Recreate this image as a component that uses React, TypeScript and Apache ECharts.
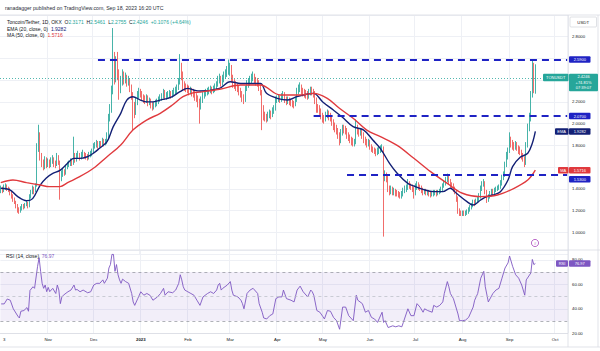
import React, { useEffect, useRef } from "react";
import * as echarts from "echarts";

// ---------------- data ----------------
const startDate = "2022-10-01";
const categoryDays = 374; // Oct 1 2022 .. Oct 9 2023 (right margin of the time scale)
const firstOpen = 1.38;

const closes = [
  1.40,1.38,1.41,1.42,1.40,1.39,1.36,1.33,1.30,1.28,
  1.24,1.20,1.19,1.22,1.24,1.23,1.25,1.27,1.24,1.33,
  1.37,1.40,1.38,1.43,1.78,1.90,1.70,1.64,1.60,1.66,
  1.62,1.65,1.62,1.66,1.67,1.63,1.62,1.70,1.65,1.50,
  1.54,1.56,1.55,1.60,1.62,1.63,1.65,1.64,1.70,1.67,
  1.70,1.72,1.69,1.71,1.73,1.71,1.70,1.69,1.71,1.72,
  1.74,1.79,1.80,1.82,1.80,1.82,1.81,1.84,1.82,1.83,
  1.88,2.05,2.12,2.30,2.62,2.42,2.58,2.45,2.32,2.38,
  2.45,2.40,2.42,2.38,2.40,2.33,2.27,2.15,2.10,2.20,
  2.26,2.30,2.28,2.25,2.23,2.22,2.24,2.20,2.21,2.18,
  2.16,2.17,2.19,2.20,2.22,2.24,2.25,2.29,2.25,2.26,
  2.27,2.28,2.26,2.28,2.30,2.31,2.33,2.38,2.52,2.45,
  2.36,2.34,2.33,2.32,2.30,2.31,2.29,2.28,2.25,2.24,
  2.20,2.16,2.22,2.26,2.28,2.29,2.30,2.31,2.32,2.31,
  2.32,2.34,2.36,2.40,2.42,2.38,2.41,2.44,2.46,2.48,
  2.50,2.52,2.42,2.38,2.36,2.34,2.33,2.30,2.28,2.24,
  2.22,2.32,2.36,2.38,2.40,2.42,2.44,2.41,2.39,2.38,
  2.34,2.30,2.14,2.08,2.06,2.05,2.08,2.10,2.08,2.12,
  2.14,2.22,2.23,2.24,2.23,2.25,2.27,2.23,2.21,2.22,
  2.21,2.20,2.19,2.18,2.22,2.30,2.32,2.34,2.31,2.29,
  2.28,2.27,2.26,2.29,2.31,2.30,2.28,2.22,2.15,2.14,
  2.12,2.08,2.05,2.04,2.08,2.10,2.07,2.06,2.02,1.98,
  1.96,1.94,1.90,1.84,1.92,1.96,1.95,1.94,1.90,1.88,
  1.86,1.84,1.82,1.83,1.97,1.94,1.92,1.93,1.90,1.86,
  1.84,1.82,1.83,1.79,1.77,1.76,1.75,1.73,1.75,1.76,
  1.77,1.78,1.52,1.53,1.50,1.41,1.38,1.40,1.37,1.38,
  1.37,1.36,1.35,1.34,1.35,1.38,1.40,1.41,1.46,1.43,
  1.42,1.40,1.36,1.42,1.44,1.42,1.41,1.39,1.37,1.38,
  1.37,1.37,1.36,1.35,1.35,1.37,1.37,1.36,1.37,1.38,
  1.39,1.43,1.45,1.48,1.51,1.47,1.44,1.43,1.40,1.38,
  1.32,1.20,1.18,1.17,1.18,1.17,1.18,1.19,1.21,1.23,
  1.25,1.28,1.27,1.29,1.30,1.33,1.40,1.44,1.46,1.38,
  1.30,1.33,1.36,1.38,1.37,1.39,1.40,1.41,1.42,1.45,
  1.50,1.53,1.62,1.70,1.75,1.86,1.82,1.80,1.78,1.80,
  1.78,1.76,1.74,1.70,1.68,1.64,1.80,1.96,2.04,2.26,
  2.50,2.3171,2.4246,
];

const highs = [
  1.43,1.42,1.44,1.45,1.44,1.42,1.41,1.38,1.35,1.32,
  1.29,1.26,1.23,1.24,1.26,1.26,1.27,1.29,1.28,1.35,
  1.39,1.43,1.42,1.45,1.82,1.99,1.92,1.73,1.67,1.70,
  1.69,1.68,1.67,1.69,1.71,1.69,1.66,1.73,1.71,1.66,
  1.57,1.59,1.58,1.62,1.65,1.66,1.68,1.67,1.88,1.73,
  1.73,1.75,1.73,1.74,1.76,1.74,1.73,1.72,1.74,1.75,
  1.77,1.82,1.83,1.85,1.84,1.84,1.84,1.87,1.86,1.86,
  1.92,2.09,2.18,2.35,2.88,2.66,2.62,2.66,2.50,2.44,
  2.50,2.48,2.47,2.45,2.44,2.42,2.36,2.29,2.20,2.24,
  2.30,2.33,2.32,2.30,2.27,2.26,2.27,2.26,2.24,2.23,
  2.20,2.20,2.22,2.23,2.25,2.27,2.28,2.32,2.31,2.29,
  2.30,2.31,2.30,2.31,2.33,2.34,2.36,2.42,2.64,2.56,
  2.48,2.39,2.37,2.36,2.35,2.34,2.33,2.32,2.30,2.28,
  2.26,2.23,2.25,2.29,2.31,2.32,2.33,2.34,2.35,2.34,
  2.35,2.37,2.39,2.44,2.46,2.44,2.45,2.48,2.50,2.53,
  2.59,2.56,2.54,2.45,2.41,2.39,2.37,2.35,2.33,2.30,
  2.27,2.35,2.40,2.42,2.44,2.46,2.48,2.46,2.43,2.42,
  2.40,2.36,2.31,2.17,2.11,2.09,2.11,2.13,2.12,2.15,
  2.17,2.25,2.26,2.27,2.26,2.28,2.30,2.29,2.25,2.25,
  2.24,2.23,2.22,2.21,2.25,2.33,2.36,2.38,2.36,2.33,
  2.32,2.31,2.30,2.32,2.34,2.34,2.32,2.30,2.24,2.18,
  2.17,2.14,2.10,2.08,2.11,2.13,2.12,2.10,2.08,2.04,
  2.01,1.99,1.96,1.92,1.95,1.99,1.99,1.98,1.96,1.92,
  1.90,1.88,1.87,1.86,2.04,1.99,1.96,1.96,1.95,1.92,
  1.88,1.86,1.86,1.85,1.81,1.79,1.78,1.77,1.78,1.79,
  1.80,1.81,1.79,1.57,1.55,1.52,1.43,1.43,1.42,1.41,
  1.40,1.39,1.38,1.37,1.38,1.41,1.43,1.44,1.49,1.47,
  1.45,1.44,1.42,1.45,1.47,1.46,1.44,1.43,1.41,1.40,
  1.40,1.39,1.39,1.38,1.37,1.39,1.39,1.39,1.39,1.40,
  1.42,1.45,1.48,1.51,1.54,1.52,1.49,1.46,1.45,1.42,
  1.39,1.33,1.22,1.20,1.20,1.20,1.20,1.21,1.23,1.25,
  1.27,1.30,1.30,1.31,1.33,1.36,1.43,1.47,1.49,1.47,
  1.39,1.35,1.38,1.40,1.40,1.41,1.42,1.43,1.44,1.48,
  1.53,1.56,1.65,1.74,1.78,1.92,1.88,1.85,1.83,1.84,
  1.83,1.80,1.79,1.76,1.73,1.70,1.83,2.00,2.10,2.30,
  2.58,2.56,2.5461,
];

const lows = [
  1.36,1.36,1.37,1.39,1.38,1.37,1.34,1.31,1.28,1.26,
  1.22,1.18,1.17,1.18,1.20,1.21,1.22,1.24,1.22,1.23,
  1.31,1.35,1.35,1.37,1.42,1.74,1.66,1.60,1.57,1.58,
  1.59,1.60,1.59,1.60,1.63,1.60,1.59,1.61,1.62,1.30,
  1.47,1.51,1.52,1.53,1.58,1.60,1.61,1.61,1.62,1.64,
  1.65,1.68,1.66,1.67,1.69,1.68,1.67,1.66,1.67,1.69,
  1.70,1.73,1.77,1.78,1.77,1.78,1.78,1.79,1.79,1.80,
  1.81,1.86,2.02,2.10,2.27,2.36,2.38,2.40,2.22,2.28,
  2.35,2.36,2.37,2.34,2.35,2.29,2.22,1.94,2.05,2.08,
  2.17,2.23,2.24,2.21,2.19,2.18,2.19,2.16,2.17,2.14,
  2.12,2.13,2.15,2.16,2.18,2.20,2.21,2.23,2.22,2.22,
  2.23,2.24,2.23,2.24,2.26,2.27,2.28,2.31,2.36,2.40,
  2.30,2.30,2.29,2.28,2.26,2.27,2.25,2.24,2.21,2.20,
  2.15,2.00,2.13,2.19,2.23,2.25,2.26,2.27,2.28,2.27,
  2.28,2.29,2.31,2.34,2.37,2.34,2.35,2.38,2.41,2.43,
  2.45,2.44,2.38,2.33,2.32,2.30,2.29,2.26,2.24,2.20,
  2.18,2.20,2.30,2.33,2.35,2.37,2.39,2.37,2.35,2.34,
  2.30,2.26,1.94,2.03,2.02,2.01,2.02,2.05,2.04,2.06,
  2.09,2.12,2.19,2.20,2.19,2.20,2.22,2.19,2.17,2.18,
  2.17,2.16,2.15,2.14,2.16,2.20,2.27,2.29,2.27,2.25,
  2.24,2.23,2.22,2.23,2.26,2.26,2.24,2.18,2.10,2.10,
  2.08,2.04,2.01,2.00,2.02,2.05,2.03,2.02,1.98,1.94,
  1.92,1.90,1.86,1.80,1.82,1.89,1.91,1.90,1.86,1.84,
  1.82,1.80,1.79,1.79,1.81,1.90,1.88,1.89,1.86,1.82,
  1.80,1.78,1.79,1.76,1.74,1.73,1.72,1.70,1.71,1.72,
  1.73,1.74,0.96,1.47,1.46,1.37,1.34,1.35,1.34,1.34,
  1.33,1.33,1.32,1.31,1.31,1.33,1.36,1.37,1.39,1.40,
  1.39,1.37,1.31,1.34,1.39,1.39,1.38,1.36,1.34,1.35,
  1.34,1.34,1.33,1.32,1.33,1.33,1.34,1.33,1.34,1.35,
  1.36,1.37,1.41,1.43,1.46,1.44,1.41,1.40,1.37,1.35,
  1.28,1.17,1.15,1.15,1.15,1.15,1.15,1.16,1.17,1.19,
  1.21,1.23,1.24,1.25,1.27,1.28,1.31,1.38,1.42,1.35,
  1.27,1.28,1.31,1.34,1.34,1.35,1.37,1.38,1.39,1.40,
  1.43,1.48,1.51,1.60,1.67,1.73,1.78,1.76,1.75,1.76,
  1.75,1.72,1.71,1.67,1.65,1.60,1.62,1.78,1.93,2.02,
  2.24,2.28,2.2755,
];

const emaPoints = [
  [0,1.405],[6,1.39],[11,1.33],[17,1.29],[21,1.31],[26,1.435],[30,1.50],[34,1.54],[39,1.57],[44,1.635],
  [48,1.68],[52,1.68],[57,1.695],[61,1.727],[65,1.773],[70,1.834],[74,1.97],[79,2.095],[83,2.217],[87,2.248],
  [92,2.217],[96,2.20],[100,2.20],[105,2.217],[110,2.233],[113,2.248],[118,2.294],[123,2.325],[127,2.31],[131,2.30],
  [144,2.325],[151,2.386],[158,2.37],[164,2.37],[171,2.37],[175,2.279],[182,2.233],[189,2.217],[195,2.248],[202,2.273],
  [206,2.279],[212,2.20],[219,2.125],[225,2.058],[232,1.972],[239,1.941],[245,1.849],[250,1.77],[256,1.634],[261,1.543],
  [268,1.45],[272,1.426],[278,1.395],[285,1.374],[291,1.374],[296,1.405],[300,1.359],[307,1.282],[311,1.251],[316,1.297],
  [320,1.328],[324,1.343],[329,1.374],[334,1.481],[337,1.604],[342,1.69],[347,1.727],[350,1.819],[352,1.9282],
];

const maPoints = [
  [0,1.457],[8,1.481],[17,1.457],[26,1.435],[32,1.42],[39,1.42],[44,1.457],[52,1.512],[61,1.589],[70,1.696],
  [79,1.803],[87,1.941],[96,2.033],[105,2.095],[113,2.171],[120,2.248],[127,2.285],[131,2.29],[144,2.316],[158,2.355],
  [171,2.355],[184,2.263],[197,2.263],[206,2.279],[215,2.233],[223,2.141],[232,2.049],[241,1.941],[250,1.88],[261,1.80],
  [272,1.681],[283,1.558],[294,1.45],[304,1.359],[316,1.328],[327,1.343],[338,1.405],[347,1.481],[352,1.5716],
];

const rsiPoints = [
  [0,44],[2,44],[4,48],[6,47],[8,40],[11,34],[12,32.5],[13,38],[15,38.6],[17,41],[18,38],[19,55],[21,58],[22,56.7],
  [24,74.7],[25,81.7],[26,70.6],[27,60.8],[28,56.7],[29,59.4],[30,54],[31,57.5],[32,54],[34,56.7],[36,52.5],[37,59.4],
  [38,55.3],[39,44.2],[40,49.7],[41,51.1],[44,53.9],[46,55.3],[48,59.4],[49,55.3],[50,55.8],[52,53.9],[54,55.3],[57,53.1],
  [59,53.9],[61,59.4],[63,60.8],[65,60.8],[67,63.6],[68,60.8],[70,65],[71,73.3],[72,76.1],[73,84.4],[74,84.4],[75,70.6],
  [76,76.1],[77,67.8],[78,63.6],[79,60.8],[80,64.2],[82,62.2],[84,60.8],[86,52.5],[87,45.6],[88,42.8],[90,48.3],[92,53.9],
  [94,51.1],[96,52.5],[98,51.1],[100,47],[103,49.7],[105,52.5],[107,56.7],[108,51.1],[110,53.9],[113,53.1],[115,55.3],
  [117,60.8],[118,67.8],[119,63.6],[120,58],[121,55.3],[123,53.9],[125,52.5],[127,51.1],[129,47],[131,42.8],[133,49.7],
  [136,52.5],[138,53.9],[140,52.5],[142,55.3],[143,59.4],[144,60.8],[145,55.3],[146,56.7],[149,59.4],[151,62.2],[152,55.3],
  [153,51.1],[156,49.7],[158,47],[159,44.2],[160,40],[162,52.5],[164,55.3],[166,56.7],[169,52.5],[170,44.2],[172,37.2],
  [173,32.5],[175,31.7],[177,34.4],[179,35.8],[181,48.3],[183,49.7],[185,49.7],[186,55.3],[188,48.3],[191,47],[193,45.6],
  [195,55.3],[197,58.5],[199,53.9],[202,49.7],[204,55.3],[205,53.9],[206,51.1],[208,38.6],[210,37.2],[212,33.6],[213,31.7],
  [215,38.6],[217,38],[219,33],[221,30.3],[223,23.3],[225,41.4],[227,41.4],[229,34.4],[231,31.7],[232,30.3],[234,51.1],
  [235,47],[238,44.2],[240,37.2],[242,38.6],[244,33],[246,31.7],[248,28.9],[249,31.7],[251,37.2],[252,28.9],[253,30.3],
  [255,24.7],[258,26.1],[260,25.3],[262,26.1],[264,25.3],[265,28.9],[268,40],[270,34.4],[272,34.4],[274,44.2],[276,41.4],
  [278,37.2],[279,40],[281,38.6],[284,37.2],[285,42.8],[287,41.4],[289,42.8],[291,45.6],[292,52.5],[294,62.2],[295,58],
  [296,52.5],[298,48.3],[301,35.8],[302,30.3],[304,30.3],[306,30.8],[308,33],[311,41.4],[312,47],[314,52.5],[316,65],
  [318,70.6],[319,58],[321,45.6],[324,52.5],[326,55.3],[328,56.7],[330,65],[332,73.3],[334,77.5],[335,83.1],[337,74.7],
  [339,67.8],[341,65],[343,59.4],[345,51.1],[346,63.6],[349,69.2],[350,80.3],[351,76.1],[352,76.97],
];

const xTickDates = ["2022-10-03","2022-11-01","2022-12-01","2023-01-01","2023-02-01","2023-03-01","2023-04-01","2023-05-01","2023-06-01","2023-07-01","2023-08-01","2023-09-01","2023-10-01"];
const xTickLabels = ["3","Nov","Dec","2023","Feb","Mar","Apr","May","Jun","Jul","Aug","Sep","Oct"];
const priceTickLabels = [2.8, 2.2, 2.0, 1.8, 1.4, 1.2, 1.0];
const rsiTickLabels = [80, 60, 40, 20];
const levelValues = [2.59, 2.07, 1.53];
const levelStartDates = ["2022-12-04", "2023-04-25", "2023-05-17"];
const rsiBandLines = [70, 50, 30];
const lastBar = { o: 2.3171, h: 2.5461, l: 2.2755, c: 2.4246, chg: "+0.1076", pct: "(+4.64%)" };
const emaLast = 1.9282;
const maLast = 1.5716;
const rsiLast = 76.97;
const tonTagLines = ["2.4246", "+74.81%", "07:39:07"];

// ---------------- styling ----------------
const FONT = "'Liberation Sans', Arial, sans-serif";
const TEXT = "#131722";
const UP = "#26a69a";
const DOWN = "#ef5350";
const BLUE = "#1f23c4";
const NAVY = "#132075";
const MA_RED = "#e03a3e";
const PURPLE = "#7e57c2";
const GRID = "#eef0f5";
const BORDER = "#d9dce3";

function buildDates(): string[] {
  const [y, m, d] = startDate.split("-").map(Number);
  const t0 = Date.UTC(y, m - 1, d);
  const out: string[] = [];
  for (let i = 0; i < categoryDays; i++) out.push(new Date(t0 + i * 86400000).toISOString().slice(0, 10));
  return out;
}

export default function App() {
  const ref = useRef<HTMLDivElement>(null);

  useEffect(() => {
    const el = ref.current;
    if (!el) return;
    const chart = echarts.init(el, null, { renderer: "svg" });
    const dates = buildDates();
    const candles = closes.map((c, i) => [i === 0 ? firstOpen : closes[i - 1], c, lows[i], highs[i]]);
    const tickMap = new Map(xTickDates.map((d, i) => [d, xTickLabels[i]]));
    const monthStarts = new Set(xTickDates.filter((d) => d.endsWith("-01")));
    const lastDate = dates[dates.length - 1];

    const xCommon = (show: boolean, gridIndex: number) => ({
      type: "category",
      gridIndex,
      data: dates,
      boundaryGap: true,
      axisLine: { show: false },
      axisTick: { show: false },
      axisLabel: {
        show,
        interval: (_i: number, v: string) => tickMap.has(v),
        formatter: (v: string) => {
          const t = tickMap.get(v) ?? "";
          return /^\d{4}$/.test(t) ? `{y|${t}}` : t;
        },
        rich: { y: { fontWeight: "bold", fontSize: 4.3, fontFamily: FONT, color: TEXT } },
        fontSize: 4.3,
        fontFamily: FONT,
        color: TEXT,
        margin: 4.5,
      },
      splitLine: { show: true, interval: (_i: number, v: string) => monthStarts.has(v), lineStyle: { color: GRID, width: 1 } },
    });

    chart.setOption({
      animation: false,
      backgroundColor: "#ffffff",
      grid: [
        { left: 0, right: 32, top: 15, height: 239 },
        { left: 0, right: 32, top: 250, height: 83.3 },
      ],
      xAxis: [xCommon(false, 0), xCommon(true, 1)],
      yAxis: [
        {
          type: "value", gridIndex: 0, position: "right", min: 0.8, max: 3.0, interval: 0.2,
          axisLine: { show: false }, axisTick: { show: false },
          splitLine: { lineStyle: { color: GRID, width: 1 } },
          axisLabel: {
            fontSize: 4.3, fontFamily: FONT, color: TEXT, margin: 4,
            formatter: (v: number) => (priceTickLabels.some((p) => Math.abs(p - v) < 1e-6) ? v.toFixed(4) : ""),
          },
        },
        {
          type: "value", gridIndex: 1, position: "right", min: 20, max: 88, interval: 20,
          axisLine: { show: false }, axisTick: { show: false },
          splitLine: { lineStyle: { color: GRID, width: 1 } },
          axisLabel: {
            fontSize: 4.3, fontFamily: FONT, color: TEXT, margin: 4,
            formatter: (v: number) => (rsiTickLabels.some((p) => Math.abs(p - v) < 1e-6) ? v.toFixed(2) : ""),
          },
        },
      ],
      series: [
        {
          type: "candlestick", name: "TONUSDT", xAxisIndex: 0, yAxisIndex: 0, data: candles,
          barWidth: 1.3,
          itemStyle: { color: UP, color0: DOWN, borderColor: UP, borderColor0: DOWN, borderWidth: 0.85 },
          markLine: {
            silent: true, symbol: ["none", "none"], label: { show: false },
            data: [
              { yAxis: lastBar.c, lineStyle: { color: UP, type: [1, 2], width: 0.8 } },
              ...levelValues.map((v, i) => [
                { coord: [levelStartDates[i], v], lineStyle: { color: BLUE, type: [7, 5], width: 1.9 } },
                { coord: [lastDate, v] },
              ]),
            ],
          },
        },
        {
          type: "line", name: "EMA", xAxisIndex: 0, yAxisIndex: 0, data: emaPoints, smooth: 0.35,
          symbol: "none", lineStyle: { color: NAVY, width: 1.4 }, z: 3,
        },
        {
          type: "line", name: "MA", xAxisIndex: 0, yAxisIndex: 0, data: maPoints, smooth: 0.35,
          symbol: "none", lineStyle: { color: MA_RED, width: 1.4 }, z: 3,
        },
        {
          type: "line", name: "RSI", xAxisIndex: 1, yAxisIndex: 1, data: rsiPoints,
          symbol: "none", lineStyle: { color: PURPLE, width: 0.9 },
          markArea: { silent: true, itemStyle: { color: "rgba(126,87,194,0.10)" }, data: [[{ yAxis: 30 }, { yAxis: 70 }]] },
          markLine: {
            silent: true, symbol: ["none", "none"], label: { show: false },
            data: rsiBandLines.map((v) => ({
              yAxis: v,
              lineStyle: { color: v === 50 ? "#b8bbc4" : "#8e919a", type: [3, 3], width: 0.7 },
            })),
          },
        },
      ],
    });

    const yP = (v: number) => chart.convertToPixel({ yAxisIndex: 0 }, v) as number;
    const yR = (v: number) => chart.convertToPixel({ yAxisIndex: 1 }, v) as number;

    const box = (x: number, y: number, w: number, h: number, fill: string, stroke?: string) => ({
      type: "rect", z: 100,
      shape: { x, y, width: w, height: h, r: 1 },
      style: { fill, stroke: stroke ?? fill, lineWidth: stroke ? 0.6 : 0 },
    });
    const txt = (x: number, y: number, text: string, fill: string, size = 4, align = "center", weight = "normal") => ({
      type: "text", z: 101, x, y,
      style: { text, fill, fontSize: size, fontFamily: FONT, fontWeight: weight, align, verticalAlign: "middle" },
    });
    const priceTag = (cy: number, text: string, bg: string) => [
      box(569, cy - 3.2, 21.5, 6.4, bg),
      txt(579.8, cy, text, "#ffffff", 4),
    ];
    const hline = (x1: number, y1: number, x2: number, y2: number) => ({
      type: "line", z: 90, shape: { x1, y1, x2, y2 }, style: { stroke: BORDER, lineWidth: 0.8 },
    });

    const ton = yP(lastBar.c);
    const emaY = yP(emaLast);
    const maY = yP(maLast);
    const rsiY = yR(rsiLast);
    const legendRich = {
      a: { fill: TEXT, fontSize: 5, fontFamily: FONT },
      g: { fill: UP, fontSize: 5, fontFamily: FONT },
      n: { fill: NAVY, fontSize: 5, fontFamily: FONT },
      r: { fill: MA_RED, fontSize: 5, fontFamily: FONT },
      p: { fill: PURPLE, fontSize: 5, fontFamily: FONT },
    };
    const rich = (x: number, y: number, text: string) => ({
      type: "text", z: 101, x, y,
      style: { text, rich: legendRich, fontSize: 5, fontFamily: FONT, fill: TEXT, align: "left", verticalAlign: "middle" },
    });

    chart.setOption({
      graphic: [
        hline(0, 15, 600, 15),
        hline(0, 250, 600, 250),
        hline(0, 333.5, 568, 333.5),
        hline(0, 347, 600, 347),
        hline(568, 15, 568, 347),
        hline(598, 15, 598, 347),
        txt(5, 8.3, "ranadagger published on TradingView.com, Sep 18, 2023 16:20 UTC", "#2a2e39", 5.2, "left"),
        rich(7, 21.6,
          `{a|Toncoin/Tether, 1D, OKX  O}{g|${lastBar.o.toFixed(4)}}{a|  H}{g|${lastBar.h.toFixed(4)}}{a|  L}{g|${lastBar.l.toFixed(4)}}{a|  C}{g|${lastBar.c.toFixed(4)}  ${lastBar.chg} ${lastBar.pct}}`),
        rich(7, 28.6, `{a|EMA (20, close, 0)  }{n|${emaLast.toFixed(4)}}`),
        rich(7, 35, `{a|MA (50, close, 0)  }{r|${maLast.toFixed(4)}}`),
        rich(6, 255.7, `{a|RSI (14, close)  }{p|${rsiLast.toFixed(2)}}`),
        box(570, 17, 26.5, 10, "#ffffff", "#c9ccd4"),
        txt(583.2, 22, "USDT", TEXT, 4.3),
        ...priceTag(yP(levelValues[0]), levelValues[0].toFixed(4), BLUE),
        box(543, ton - 3.8, 25.5, 7.6, UP),
        txt(555.7, ton, "TONUSDT", "#ffffff", 4),
        box(569, ton - 3.8, 29, 17.5, UP),
        txt(583.5, ton - 0.6, tonTagLines[0], "#ffffff", 4),
        txt(583.5, ton + 4.9, tonTagLines[1], "#ffffff", 4),
        txt(583.5, ton + 10.4, tonTagLines[2], "#ffffff", 4),
        ...priceTag(yP(levelValues[1]), levelValues[1].toFixed(4), BLUE),
        box(555, emaY - 3.2, 13.5, 6.4, NAVY),
        txt(561.7, emaY, "EMA", "#ffffff", 4),
        ...priceTag(emaY, emaLast.toFixed(4), NAVY),
        box(558, maY - 3.2, 10.5, 6.4, MA_RED),
        txt(563.2, maY, "MA", "#ffffff", 4),
        ...priceTag(maY, maLast.toFixed(4), MA_RED),
        ...priceTag(yP(levelValues[2]) + 4.5, levelValues[2].toFixed(4), BLUE),
        box(556, rsiY - 3.2, 12, 6.4, PURPLE),
        txt(562, rsiY, "RSI", "#ffffff", 4),
        ...priceTag(rsiY, rsiLast.toFixed(2), PURPLE),
        { type: "circle", z: 100, shape: { cx: 535, cy: 243, r: 3.6 }, style: { fill: "#ffffff", stroke: "#ab47bc", lineWidth: 0.8 } },
        txt(535, 243.2, "#", "#ab47bc", 4),
      ],
    });

    return () => chart.dispose();
  }, []);

  return <div ref={ref} style={{ position: "absolute", left: 0, top: 0, width: 600, height: 351 }} />;
}
